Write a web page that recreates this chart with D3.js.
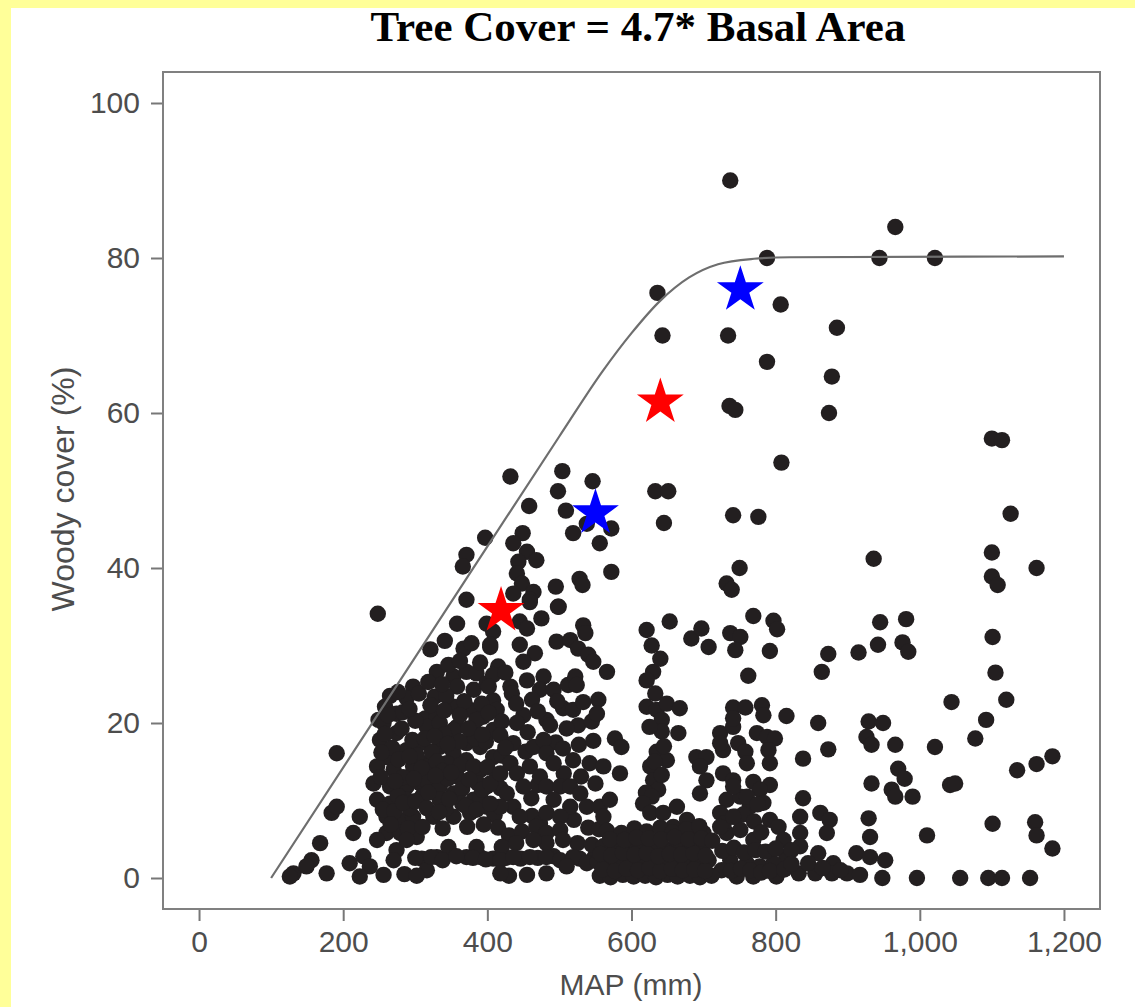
<!DOCTYPE html>
<html>
<head>
<meta charset="utf-8">
<script src="https://cdn.jsdelivr.net/npm/d3@7"></script>
<style>
  html, body { margin: 0; padding: 0; background: #ffff99; }
  svg { display: block; }
</style>
</head>
<body>
<svg id="chart" width="1135" height="1007"></svg>
<script>
// --- Daten ---
const xTicks = [0, 200, 400, 600, 800, 1000, 1200];
const yTicks = [0, 20, 40, 60, 80, 100];

// Obergrenze (Kurve): MAP in mm, Woody cover in %
const curveMm  = [100, 300, 500, 560, 600, 640, 680, 720, 770, 820, 1200];
const curvePct = [0, 28.5, 57, 65.4, 70.3, 74.5, 77.5, 79.2, 79.9, 80.1, 80.2];

// Sterne
const redStars  = [[419, 34.5], [640, 61.4]];
const blueStars = [[550, 47.1], [751, 75.9]];

// Standorte [MAP mm, Woody cover %]
const sites = [
  // oben / Mitte
  [737,90],[966,84],[788,80],[944,80],[1021,80],[636,75.5],[807,74],[885,71],[643,70],[734,70],
  [788,66.6],[878,64.7],[736,60.9],[744,60.4],[874,60],[1100,56.7],[1114,56.5],[808,53.6],
  [633,49.9],[651,49.9],[546,51.2],[645,45.8],[741,46.8],[776,46.6],[1126,47],[572,45.1],
  [556,43.2],[572,39.5],[936,41.2],[750,40],[732,38],[739,37.2],
  [432,51.8],[504,52.5],[498,49.9],[458,48],[509,47.4],[519,44.5],[538,45.7],[397,43.9],
  [449,44.5],[436,43.2],[455,42.1],[468,41],[443,40.8],[441,39.3],[448,38],[436,36.7],
  [464,36.9],[459,35.9],[371,41.7],[366,40.2],[528,38.6],[532,37.8],[495,37.6],[371,35.9],
  [498,35],[248,34.1],
  // rechts
  [769,33.8],[797,33.2],[802,32.1],[945,33],[981,33.4],[737,31.6],[751,31.1],[744,29.4],
  [792,29.3],[873,28.9],[915,29.1],[942,30.1],[976,30.4],[984,29.2],[864,26.6],[762,26.1],
  [741,22],[758,22],[781,22.3],[783,21],[815,20.9],[859,20],[929,20.2],[949,20],[1044,22.7],
  [1092,20.4],[1077,18],[723,18.7],[741,19.5],[748,17.4],[727,16.5],[774,18.7],[788,18.2],
  [799,18],[790,16.5],[926,18.2],[933,17.2],[966,17.2],[1021,16.9],[873,16.6],[758,16.3],
  [760,14.8],[792,14.8],[838,15.4],[970,14.1],[979,12.8],[933,12.2],[1042,12],[1049,12.2],
  [961,11.4],[966,10.5],[990,10.5],[727,13.5],[741,12.6],[769,12.4],[792,12],[778,11.4],
  [838,10.3],[929,7.7],[1010,5.5],
  [732,10.1],[751,10.5],[723,8.4],[744,7.9],[764,9.2],[783,9.7],[732,5.8],[751,6.2],[769,4.9],
  [792,7.5],[804,6.6],[811,4.9],[815,2.8],[834,7.9],[834,5.8],[834,4.1],[862,8.4],[875,7.5],
  [871,5.8],[859,3.2],[880,1.9],[899,0.6],[917,0.4],[737,2.3],[760,1.9],[778,1.5],[797,1.9],
  [801,0.2],[746,0.2],[769,0.2],[832,0.6],[855,0.6],[878,0.6],[952,2.3],[931,5.3],[912,3.2],
  [931,2.7],[948,0],[996,0],[1056,0],[1095,0],[1114,0],[1153,0],
  [1100,42],[1100,38.9],[1108,37.8],[1162,40],[1101,31.1],[1105,26.5],[1120,23],[1135,13.9],
  [1162,14.7],[1184,15.7],[1101,7],[1160,7.2],[1162,5.5],[1184,3.8],
  [725,1],[738,0.9],[752,1.2],[765,1],[780,0.7],[792,0.9],[812,1.1],[726,3.5],[742,3.9],
  [756,3.3],[772,3.6],[786,3.4],[800,3.8],[822,3.6],[728,7],[755,8.2],[770,7.3],[780,5.9],
  [760,10.5],[775,9.5],[822,1.8],[845,1.9],[865,1.3],[890,1],
  // links, dichter Bereich
  [358,32.8],[321,29.5],[341,30.6],[367,29.6],[378,30.3],[399,32.8],[408,31.8],[404,29.8],
  [330,26.6],[297,24.7],[327,23.4],[288,23.2],[314,20.6],[330,20.8],[258,22.1],[249,20.4],
  [353,26],[371,26.6],[385,26.4],[358,24.7],[381,24.3],[399,25.1],[408,22.9],[353,22.1],
  [376,21.7],[394,20.8],[413,21.7],[358,19.5],[381,19.1],[408,19.1],[348,16.9],[371,17.4],
  [390,16.9],[408,15.6],
  [256,20],[274,21.2],[251,17.8],[274,18.7],[260,15.6],[288,16.5],[307,17.4],[247,14.4],
  [270,14],[297,14.4],[316,14.8],[242,12.2],[265,11.8],[288,11.8],[307,12.2],[247,10.1],
  [265,9.6],[288,10.1],[260,7.9],[279,7.5],[297,7.9],[260,5.8],[279,5.8],[302,5.3],[274,3.6],
  [270,2.3],
  [316,19.5],[334,20],[353,19.1],[334,16.9],[353,16.1],[316,14.4],[344,14.8],[371,15.2],
  [316,12.6],[334,11.8],[358,13.1],[390,13.9],[334,10.1],[353,10.9],[381,10.1],[399,11.8],
  [325,7.9],[353,7.9],[376,8.4],[399,9.2],
  [283,13],[302,15.8],[276,10.6],[255,8.8],[292,9],[310,10.6],[268,16.8],[323,16.3],
  [340,18.5],[362,17.6],[383,18],[398,17.6],[345,12.8],[365,11.5],[387,12.2],[342,8.9],
  [365,9.6],[390,10.5],[300,20.3],[283,21.4],[368,22.8],[392,22.5],[343,23.5],
  [265,23.5],[276,24],[305,23.8],[318,25.3],[337,25],[346,27.5],[362,28],[390,27.8],[415,27.3],
  [262,21],[292,21.8],[321,22.3],[340,21.6],[362,21],[385,20.4],[402,21.3],[420,20.2],
  [258,18.6],[281,19.3],[296,17.8],[313,18],[327,18.3],[345,17.3],[374,19.3],[393,18.5],
  [418,18.4],[253,16.2],[277,15.3],[292,15.7],[309,14.2],[330,15],[338,13.8],[363,14.6],
  [381,14.4],[400,14.3],[420,15.8],[252,13],[272,12.5],[298,12.8],[318,11],[328,13.2],
  [350,13.6],[375,12.7],[393,11.4],[412,12.7],[271,8.6],[283,9.7],[300,9.9],[316,9],
  [333,8.5],[347,10.2],[370,9.3],[385,8.8],[410,8.1],[266,6.9],[290,6.4],[310,6.6],
  [338,6.4],[372,6.6],[395,6.9],[415,6.5],
  [184,8.4],[191,9.2],[223,7.9],[214,5.8],[247,4.9],[168,4.5],[156,2.3],[131,0.6],[149,1.5],
  [177,0.6],[209,1.9],[228,2.8],[237,1.5],[223,0.2],[256,0.4],[126,0.2],
  [309,2.5],[330,2.7],[348,3.2],[371,2.7],[390,2.7],[408,2.5],[316,1],[346,4],[385,4],
  [288,4.9],[191,16.1],
  [300,2.6],[322,2.7],[338,2.3],[357,2.8],[380,2.6],[398,2.4],[425,2.6],[446,2.5],[470,2.6],
  [492,2.8],[528,2.5],[548,2.6],[285,0.5],[302,0.3],[430,0.3],[455,0.4],
  // Mitte
  [499,35],[475,33.5],[459,35.6],[533,32.6],[536,31.6],[445,33.1],[455,32.2],[404,30.1],
  [445,30.1],[466,29],[450,27.9],[496,30.5],[515,30.7],[526,29.6],[540,28.8],[547,27.9],
  [566,26.6],[621,32],[653,33.1],[683,30.9],[697,32.2],[707,29.8],
  [408,26.2],[402,24.7],[432,24.7],[434,23.8],[478,26],[473,24.3],[492,24.3],[512,24.9],
  [522,26],[524,24.9],[554,23],[505,21.9],[519,21.7],[450,21],[441,20],[482,20.4],[487,19.7],
  [526,19.7],[545,20.2],[552,21.2],[436,17.4],[577,18],[586,16.9],
  [425,26.5],[455,25.5],[462,23],[440,22.5],[497,22.8],[470,21.5],[510,19.3],[533,22.7],
  [456,18.8],[495,17.5],[505,16.7],[527,17.2],[547,17.7],[425,16.8],[453,16.3],[418,11.6],
  [461,10.3],[470,12],[506,13.5],[530,13.1],[550,12.2],[462,8],[473,7],[520,7.5],[540,6.5],
  [555,6.3],[430,5.5],[448,6],[420,4],[440,4.5],[525,4.5],[545,4.3],
  [630,26.6],[621,25.5],[633,23.8],[621,22.1],[635,21.7],[649,22.5],[667,21.9],[642,20.4],
  [642,18.9],[665,18.7],[635,16.3],[649,15.2],[626,14.4],[630,12.6],[637,11.4],[690,15.6],
  [704,15.6],[695,14.4],[704,12.6],[695,10.9],
  [628,30],[640,28.3],[625,19.5],[645,17],[632,15],[620,11],[642,13.3],[628,10.5],
  [723,17.4],[741,20.6],[741,11.8],[723,6.6],[741,7.9],
  [404,12.2],[418,13.5],[432,14.8],[441,13.5],[464,16.9],[478,17.8],[482,16.1],[492,14.8],
  [459,14.4],[473,13.1],[519,15.2],[542,14.8],[561,14.4],[584,13.5],
  [427,10.9],[450,11.8],[436,9.2],[418,9.2],[404,9.6],[445,7.9],[482,11.8],[501,11.8],
  [492,10.1],[515,11.8],[529,10.9],[515,9.2],[538,9.2],[556,9.2],[570,10.1],[561,7.9],
  [482,8.4],[501,7.9],
  [616,9.6],[626,8.4],[644,8.4],[663,9.2],[677,7.5],[658,6.6],[686,6.2],[700,5.8],
  [468,6.6],[482,5.8],[501,6.2],[505,4.9],[482,4.5],[464,4.9],
  [418,2.3],[436,2.7],[459,2.7],[482,2.7],[501,2.3],[519,2.7],[538,1.9],[418,0.6],[482,0.6],
  [510,1.5],
  // dichter Block unten (550-710 mm)
  [556,0.3],[571,0.1],[588,0.4],[603,0.2],[619,0.3],[634,0.1],[650,0.4],[664,0.2],[681,0.3],
  [695,0.1],[711,0.3],
  [553,2.1],[568,1.8],[584,2.2],[599,1.9],[616,2.3],[631,1.7],[646,2.2],[661,1.9],[676,2.1],
  [692,1.8],[707,2.3],
  [561,4.1],[579,3.8],[594,4.3],[612,3.9],[628,4.2],[647,3.7],[664,4.4],[682,3.9],[699,4.2],
  [566,6.1],[586,5.8],[604,6.4],[621,6],[640,6.5],[657,5.9],[676,6.3],[694,6.7],
  [560,1.1],[577,0.9],[593,1.2],[609,1],[625,1.3],[640,0.9],[656,1.2],[671,1],[687,1.1],
  [702,0.9],[557,3.1],[572,2.9],[588,3.3],[604,3],[621,3.2],[637,2.8],[653,3.1],[669,3],
  [686,3.2],[703,2.9],[570,5],[590,4.9],[607,5.2],[624,5.1],[641,5],[660,5.3],[679,5],
  [697,5.1],[712,4.8]
];

// --- Zeichnen ---
const svg = d3.select('#chart');
const W = 1135, H = 1007;

svg.append('rect').attr('width', W).attr('height', H).attr('fill', '#ffff99');
svg.append('rect').attr('x', 11).attr('y', 8).attr('width', W - 11).attr('height', H - 8).attr('fill', '#ffffff');

const plot = { left: 163, right: 1100, top: 72, bottom: 909 };

const x = d3.scaleLinear().domain([-50, 1250]).range([plot.left, plot.right]);
const y = d3.scaleLinear().domain([-4, 104]).range([plot.bottom, plot.top]);

// Titel
svg.append('text')
  .attr('x', 638).attr('y', 41)
  .attr('text-anchor', 'middle')
  .style('font-family', '"Liberation Serif", "Times New Roman", serif')
  .style('font-weight', 'bold')
  .style('font-size', '43px')
  .attr('fill', '#000')
  .text('Tree Cover = 4.7* Basal Area');

// Achsen
const axisFont = '"Liberation Sans", Arial, Helvetica, sans-serif';

const gx = svg.append('g')
  .attr('transform', `translate(0,${plot.bottom})`)
  .call(d3.axisBottom(x).tickValues(xTicks).tickFormat(d3.format(',')).tickSize(12).tickPadding(10));

const gy = svg.append('g')
  .attr('transform', `translate(${plot.left},0)`)
  .call(d3.axisLeft(y).tickValues(yTicks).tickSize(12).tickPadding(11));

[gx, gy].forEach(g => {
  g.select('.domain').remove();
  g.selectAll('line').attr('stroke', '#777').attr('stroke-width', 2);
  g.selectAll('text')
    .style('font-family', axisFont)
    .style('font-size', '30px')
    .attr('fill', '#4d4d4d');
});

// Rahmen
svg.append('rect')
  .attr('x', plot.left).attr('y', plot.top)
  .attr('width', plot.right - plot.left).attr('height', plot.bottom - plot.top)
  .attr('fill', 'none').attr('stroke', '#808080').attr('stroke-width', 2);

// Achsentitel
svg.append('text')
  .attr('x', 631).attr('y', 995)
  .attr('text-anchor', 'middle')
  .style('font-family', axisFont).style('font-size', '30px')
  .attr('fill', '#4d4d4d')
  .text('MAP (mm)');

svg.append('text')
  .attr('transform', 'translate(74,489) rotate(-90)')
  .attr('text-anchor', 'middle')
  .style('font-family', axisFont).style('font-size', '32px')
  .attr('fill', '#4d4d4d')
  .text('Woody cover (%)');

// Punkte
svg.append('g').attr('class', 'sites')
  .selectAll('circle')
  .data(sites)
  .join('circle')
  .attr('cx', d => x(d[0]))
  .attr('cy', d => y(d[1]))
  .attr('r', 8.2)
  .attr('fill', '#231f20');

// Grenzkurve
const curve = curveMm.map((m, i) => [m, curvePct[i]]);
svg.append('path')
  .datum(curve)
  .attr('fill', 'none')
  .attr('stroke', '#6e6e6e')
  .attr('stroke-width', 2.2)
  .attr('d', d3.line().x(d => x(d[0])).y(d => y(d[1])).curve(d3.curveMonotoneX));

// Sterne
const star = d3.symbol().type(d3.symbolStar).size(680);
svg.append('g').selectAll('path')
  .data(redStars.map(d => ({ d, c: '#ff0000' })).concat(blueStars.map(d => ({ d, c: '#0000ff' }))))
  .join('path')
  .attr('transform', s => `translate(${x(s.d[0])},${y(s.d[1])})`)
  .attr('d', star)
  .attr('fill', s => s.c);
</script>
</body>
</html>
